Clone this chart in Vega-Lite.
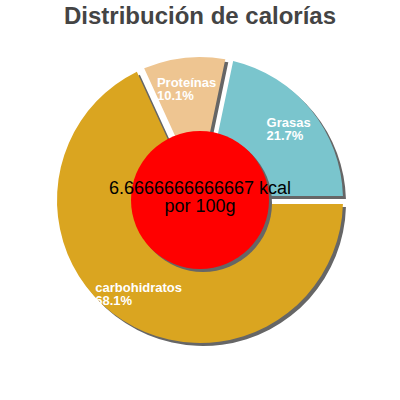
{
  "$schema": "https://vega.github.io/schema/vega-lite/v6.json",
  "width": 400,
  "height": 330,
  "autosize": {"type": "pad"},
  "padding": {"top": 5, "left": 0, "right": 0, "bottom": 0},
  "title": {"text": "Distribución de calorías", "fontSize": 24, "fontWeight": "bold", "font": "Liberation Sans", "color": "#444444", "anchor": "middle", "baseline": "top", "offset": 6},
  "view": {"stroke": null},
  "datasets": {
    "nutrientes": [
      {"nutriente": "Grasas", "fraccion": 0.217},
      {"nutriente": "carbohidratos", "fraccion": 0.681},
      {"nutriente": "Proteínas", "fraccion": 0.101}
    ],
    "centro": [
      {"texto": "6.6666666666667 kcal\npor 100g"}
    ]
  },
  "layer": [
    {
      "data": {"name": "nutrientes"},
      "mark": {"type": "arc", "outerRadius": 143, "innerRadius": 30, "padAngle": 0.055, "color": "#666666", "x": {"expr": "width/2+3"}, "y": {"expr": "height/2+3"}},
      "encoding": {
        "theta": {"field": "fraccion", "type": "quantitative", "stack": true, "scale": {"range": [1.5708, -4.7124]}},
        "order": {"field": "nutriente", "sort": "ascending"},
        "detail": {"field": "nutriente", "type": "nominal"}
      }
    },
    {
      "data": {"name": "nutrientes"},
      "mark": {"type": "arc", "outerRadius": 143, "innerRadius": 30, "padAngle": 0.055},
      "encoding": {
        "theta": {"field": "fraccion", "type": "quantitative", "stack": true},
        "order": {"field": "nutriente", "sort": "ascending"},
        "color": {"field": "nutriente", "type": "nominal", "scale": {"domain": ["Grasas", "Proteínas", "carbohidratos"], "range": ["#7AC5CD", "#EEC591", "#DAA520"]}, "legend": null}
      }
    },
    {
      "data": {"name": "centro"},
      "mark": {"type": "arc", "outerRadius": 69, "innerRadius": 0, "theta": 0, "theta2": 6.2832, "color": "#666666", "x": {"expr": "width/2+3"}, "y": {"expr": "height/2+3"}},
      "encoding": {}
    },
    {
      "data": {"name": "centro"},
      "mark": {"type": "arc", "outerRadius": 69, "innerRadius": 0, "theta": 0, "theta2": 6.2832, "color": "#FF0000"},
      "encoding": {}
    },
    {
      "data": {"name": "centro"},
      "mark": {"type": "text", "fontSize": 18, "font": "Liberation Sans", "color": "#000000", "lineBreak": "\n", "lineHeight": 18, "baseline": "middle", "dy": -11},
      "encoding": {"text": {"field": "texto", "type": "nominal"}}
    },
    {
      "data": {"name": "nutrientes"},
      "mark": {"type": "text", "radius": 112, "fontSize": 13, "fontWeight": "bold", "font": "Liberation Sans", "color": "#FFFFFF", "align": "left", "baseline": "middle", "dy": -6, "dx": {"expr": "-length(datum.nutriente)*3.4"}},
      "encoding": {
        "theta": {"field": "fraccion", "type": "quantitative", "stack": true},
        "order": {"field": "nutriente", "sort": "ascending"},
        "detail": {"field": "nutriente", "type": "nominal"},
        "text": {"field": "nutriente", "type": "nominal"}
      }
    },
    {
      "data": {"name": "nutrientes"},
      "mark": {"type": "text", "radius": 112, "fontSize": 13, "fontWeight": "bold", "font": "Liberation Sans", "color": "#FFFFFF", "align": "left", "baseline": "middle", "dy": 7, "dx": {"expr": "-length(datum.nutriente)*3.4"}},
      "encoding": {
        "theta": {"field": "fraccion", "type": "quantitative", "stack": true},
        "order": {"field": "nutriente", "sort": "ascending"},
        "detail": {"field": "nutriente", "type": "nominal"},
        "text": {"field": "fraccion", "type": "quantitative", "format": ".1%"}
      }
    }
  ]
}
